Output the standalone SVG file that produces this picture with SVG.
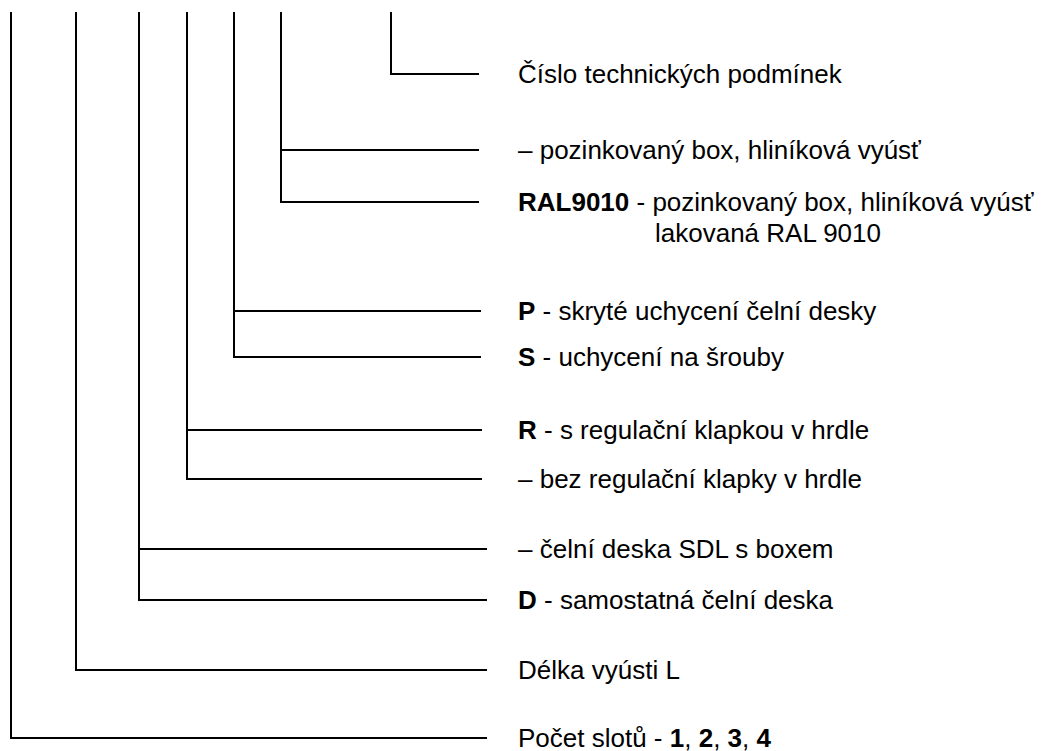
<svg xmlns="http://www.w3.org/2000/svg" width="1053" height="751" viewBox="0 0 1053 751">
<style>
.c{fill:none;stroke:#000;stroke-width:2;stroke-linecap:square}
text{font-family:"Liberation Sans",Arial,sans-serif;font-size:26px;fill:#000}
.b{font-weight:bold}
</style>
<rect width="1053" height="751" fill="#fff"/>
<g id="connectors">
<polyline class="c" points="391,13 391,74 478,74"/>
<polyline class="c" points="281,13 281,202 478,202"/>
<line class="c" x1="281" y1="150" x2="478" y2="150"/>
<polyline class="c" points="234,13 234,357 480,357"/>
<line class="c" x1="234" y1="311" x2="480" y2="311"/>
<polyline class="c" points="187,13 187,479 481,479"/>
<line class="c" x1="187" y1="430" x2="481" y2="430"/>
<polyline class="c" points="139,13 139,600 486,600"/>
<line class="c" x1="139" y1="549" x2="486" y2="549"/>
<polyline class="c" points="76,13 76,670 486,670"/>
<polyline class="c" points="11,13 11,738 486,738"/>
</g>
<g id="n-cislo"><text x="518" y="83">Číslo technických podmínek</text></g>
<g id="n-pozink"><text x="518" y="159">– pozinkovaný box, hliníková vyúsť</text></g>
<g id="n-ral"><text x="518" y="211"><tspan class="b">RAL9010</tspan> - pozinkovaný box, hliníková vyúsť</text><text x="655" y="242">lakovaná RAL 9010</text></g>
<g id="n-p"><text x="518" y="320"><tspan class="b">P</tspan> - skryté uchycení čelní desky</text></g>
<g id="n-s"><text x="518" y="366"><tspan class="b">S</tspan> - uchycení na šrouby</text></g>
<g id="n-r"><text x="518" y="439"><tspan class="b">R</tspan> - s regulační klapkou v hrdle</text></g>
<g id="n-bez"><text x="518" y="488">– bez regulační klapky v hrdle</text></g>
<g id="n-sdl"><text x="518" y="558">– čelní deska SDL s boxem</text></g>
<g id="n-d"><text x="518" y="609"><tspan class="b">D</tspan> - samostatná čelní deska</text></g>
<g id="n-delka"><text x="518" y="679">Délka vyústi L</text></g>
<g id="n-pocet"><text x="518" y="747">Počet slotů - <tspan class="b">1</tspan>, <tspan class="b">2</tspan>, <tspan class="b">3</tspan>, <tspan class="b">4</tspan></text></g>
</svg>
